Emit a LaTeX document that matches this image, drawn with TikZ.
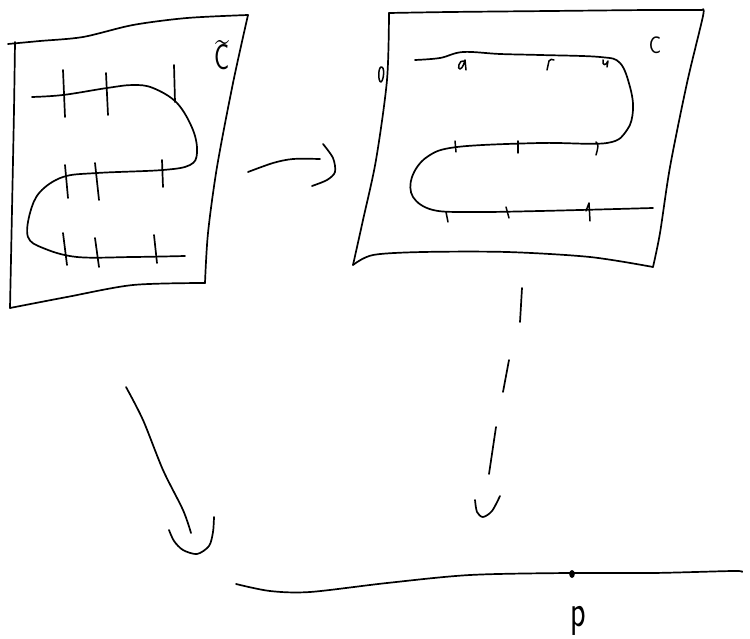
\documentclass[tikz,border=0pt]{standalone}
\usepackage{fontspec}
\setsansfont{Latin Modern Sans}
\begin{document}
\begin{tikzpicture}[x=1pt,y=-1pt,
  sk/.style={line width=1.7pt, line cap=round, line join=round},
  mk/.style={line width=1.5pt, line cap=round, line join=round},
  lbl/.style={font=\sffamily, inner sep=0pt}]
\useasboundingbox (0,0) rectangle (750,639);

% ---------- left sheet (C tilde) ----------
\draw[sk] plot[smooth] coordinates {(8,44) (40,41) (83,37) (133,25) (187,18) (248,15)};
\draw[sk] plot[smooth] coordinates {(15,42) (14,110) (12,210) (10,308)};
\draw[sk] plot[smooth] coordinates {(248,15) (233,83) (217,167) (208,233) (205,283)};
\draw[sk] plot[smooth] coordinates {(10,308) (67,297) (133,285) (205,283)};
\node[lbl, anchor=base] (Ct) at (222,70) {\scalebox{0.7}[1]{\fontsize{36}{36}\selectfont\makebox[0pt][l]{\hspace{0.05em}\raisebox{0.5em}{\textasciitilde}}C}};

% curve in left sheet
\draw[sk] plot[smooth, tension=0.6] coordinates {(32,97) (63,95) (107,88) (133,85) (153,88) (177,103) (193,130) (197,153) (190,165) (163,170) (97,173) (63,177) (40,192) (30,213) (28,237) (43,248) (77,257) (133,257) (185,256)};
% ticks
\draw[sk] (63,70) -- (65,117);
\draw[sk] (106,73) -- (108,115);
\draw[sk] (174,65) -- (175,102);
\draw[sk] (65,165) -- (68,198);
\draw[sk] (95,163) -- (99,200);
\draw[sk] (162,160) -- (163,187);
\draw[sk] (63,233) -- (67,265);
\draw[sk] (95,238) -- (99,267);
\draw[sk] (154,235) -- (157,263);

% ---------- right sheet (C) ----------
\draw[sk] plot[smooth] coordinates {(389,13) (450,12) (550,11) (650,10) (702,10)};
\draw[sk] plot[smooth] coordinates {(702,10) (703,16) (687,83) (670,167) (660,233) (653,267)};
\draw[sk] plot[smooth] coordinates {(353,265) (373,255) (423,252) (507,252) (590,257) (653,267)};
\draw[sk] plot[smooth] coordinates {(389,13) (387,80) (376,160) (363,220) (353,265)};
\draw[mk] (381,67) .. controls (385,66) and (384,80) .. (381,82) .. controls (378,82) and (378,68) .. (381,67);
\node[lbl] (C) at (655,45) {\scalebox{0.85}[1]{\fontsize{24}{24}\selectfont C}};

% curve in right sheet
\draw[sk] plot[smooth, tension=0.6] coordinates {(415,60) (440,58) (463,52) (500,54) (540,55) (600,57) (620,63) (630,87) (633,110) (627,130) (607,143) (540,143) (457,147) (427,157) (412,177) (413,197) (433,210) (473,212) (540,211) (653,208)};
% small marks on the curve
\draw[mk] (464,61) .. controls (459,59) and (457,70) .. (460,69) .. controls (463,68) and (464,63) .. (465,60) -- (466,70);
\draw[mk] (547,70) -- (549,61) .. controls (550,59) and (552,59) .. (554,60);
\draw[mk] (603,60) .. controls (602,66) and (606,66) .. (608,61) -- (607,67);
\draw[mk] (455,141) -- (456,152);
\draw[mk] (518,141) -- (518,153);
\draw[mk] (596,142) .. controls (599,144) and (598,148) .. (596,155);
\draw[mk] (446,212) -- (448,222);
\draw[mk] (506,207) -- (509,218);
\draw[mk] (586,211) -- (589,203) -- (590,221);

% ---------- arrow between sheets ----------
\draw[sk] plot[smooth] coordinates {(248,172) (273,163) (293,159) (320,159)};
\draw[sk] plot[smooth] coordinates {(323,144) (333,158) (335,172) (327,180) (312,186)};

% ---------- left down arrow ----------
\draw[sk] plot[smooth] coordinates {(126,387) (143,420) (163,470) (183,510) (191,533)};
\draw[sk] plot[smooth] coordinates {(169,530) (174,541) (183,550) (197,554) (209,546) (213,532) (214,517)};

% ---------- dashed down arrow ----------
\draw[sk] (522,288) -- (520,322);
\draw[sk] (509,360) -- (503,392);
\draw[sk] (496,427) -- (489,474);
\draw[sk] plot[smooth] coordinates {(475,500) (477,512) (483,517) (492,511) (500,496)};

% ---------- bottom line ----------
\draw[sk] plot[smooth] coordinates {(236,584) (270,591) (310,592) (387,583) (470,575) (568,573) (653,573) (733,571) (742,572)};
\fill (572,574) ellipse (2.8pt and 4pt);
\node[lbl] (p) at (578,621) {\scalebox{0.7}[1]{\fontsize{46}{46}\selectfont p}};
\end{tikzpicture}
\end{document}
